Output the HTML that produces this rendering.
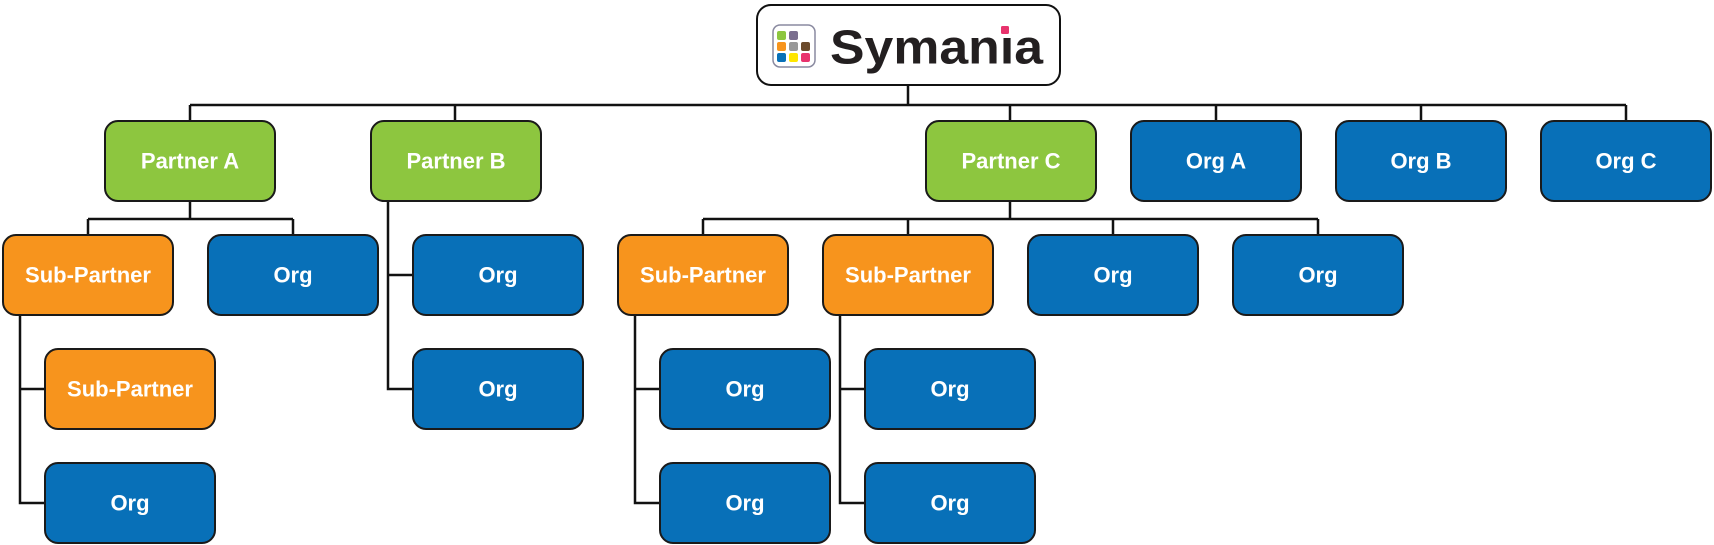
<!DOCTYPE html>
<html><head><meta charset="utf-8"><style>
html,body{margin:0;padding:0;background:#fff;width:1714px;height:545px;overflow:hidden}
svg text{font-family:"Liberation Sans",Arial,sans-serif;font-weight:bold;fill:#fff;font-size:22px;text-anchor:middle;dominant-baseline:central}
</style></head><body>
<svg width="1714" height="545" viewBox="0 0 1714 545" xmlns="http://www.w3.org/2000/svg">
<g stroke="#111" stroke-width="2.5" fill="none">
<path d="M908 86V105M190 105H1626M190 105V121M455 105V121M1010 105V121M1216 105V121M1421 105V121M1626 105V121"/>
<path d="M190 201V219M88 219H293M88 219V235M293 219V235"/>
<path d="M1010 201V219M703 219H1318M703 219V235M908 219V235M1113 219V235M1318 219V235"/>
<path d="M388 201V389H413M388 275H413"/>
<path d="M20 315V503H45M20 389H45"/>
<path d="M635 315V503H660M635 389H660"/>
<path d="M840 315V503H865M840 389H865"/>
</g>
<rect x="757" y="5" width="303" height="80" rx="14" fill="#fff" stroke="#111" stroke-width="2"/>
<g>
<rect x="773" y="25" width="42" height="42" rx="7" fill="#fff" stroke="#8a8aa0" stroke-width="1.5"/>
<rect x="777" y="31" width="9" height="9" rx="2" fill="#8dc63f"/><rect x="789" y="31" width="9" height="9" rx="2" fill="#7a6e8e"/>
<rect x="777" y="42" width="9" height="9" rx="2" fill="#f7941d"/><rect x="789" y="42" width="9" height="9" rx="2" fill="#999"/><rect x="801" y="42" width="9" height="9" rx="2" fill="#6b4a2b"/>
<rect x="777" y="53" width="9" height="9" rx="2" fill="#0870b8"/><rect x="789" y="53" width="9" height="9" rx="2" fill="#ffe600"/><rect x="801" y="53" width="9" height="9" rx="2" fill="#e8336d"/>
<text x="830" y="48" textLength="213" lengthAdjust="spacingAndGlyphs" style="fill:#231f20;font-size:48px;text-anchor:start">Symania</text>
<rect x="999" y="24" width="12" height="11" fill="#fff"/>
<rect x="1001" y="26" width="8" height="8" rx="1.5" fill="#e8336d"/>
</g>
<g stroke="#1a1a1a" stroke-width="2">
<rect x="105" y="121" width="170" height="80" rx="13" fill="#8dc63f"/>
<rect x="371" y="121" width="170" height="80" rx="13" fill="#8dc63f"/>
<rect x="926" y="121" width="170" height="80" rx="13" fill="#8dc63f"/>
<rect x="1131" y="121" width="170" height="80" rx="13" fill="#0870b8"/>
<rect x="1336" y="121" width="170" height="80" rx="13" fill="#0870b8"/>
<rect x="1541" y="121" width="170" height="80" rx="13" fill="#0870b8"/>
<rect x="3" y="235" width="170" height="80" rx="13" fill="#f7941d"/>
<rect x="208" y="235" width="170" height="80" rx="13" fill="#0870b8"/>
<rect x="413" y="235" width="170" height="80" rx="13" fill="#0870b8"/>
<rect x="618" y="235" width="170" height="80" rx="13" fill="#f7941d"/>
<rect x="823" y="235" width="170" height="80" rx="13" fill="#f7941d"/>
<rect x="1028" y="235" width="170" height="80" rx="13" fill="#0870b8"/>
<rect x="1233" y="235" width="170" height="80" rx="13" fill="#0870b8"/>
<rect x="45" y="349" width="170" height="80" rx="13" fill="#f7941d"/>
<rect x="413" y="349" width="170" height="80" rx="13" fill="#0870b8"/>
<rect x="660" y="349" width="170" height="80" rx="13" fill="#0870b8"/>
<rect x="865" y="349" width="170" height="80" rx="13" fill="#0870b8"/>
<rect x="45" y="463" width="170" height="80" rx="13" fill="#0870b8"/>
<rect x="660" y="463" width="170" height="80" rx="13" fill="#0870b8"/>
<rect x="865" y="463" width="170" height="80" rx="13" fill="#0870b8"/>
</g>
<text x="190" y="161">Partner A</text><text x="456" y="161">Partner B</text><text x="1011" y="161">Partner C</text>
<text x="1216" y="161">Org A</text><text x="1421" y="161">Org B</text><text x="1626" y="161">Org C</text>
<text x="88" y="275">Sub-Partner</text><text x="293" y="275">Org</text><text x="498" y="275">Org</text>
<text x="703" y="275">Sub-Partner</text><text x="908" y="275">Sub-Partner</text><text x="1113" y="275">Org</text><text x="1318" y="275">Org</text>
<text x="130" y="389">Sub-Partner</text><text x="498" y="389">Org</text><text x="745" y="389">Org</text><text x="950" y="389">Org</text>
<text x="130" y="503">Org</text><text x="745" y="503">Org</text><text x="950" y="503">Org</text>
</svg>
</body></html>
